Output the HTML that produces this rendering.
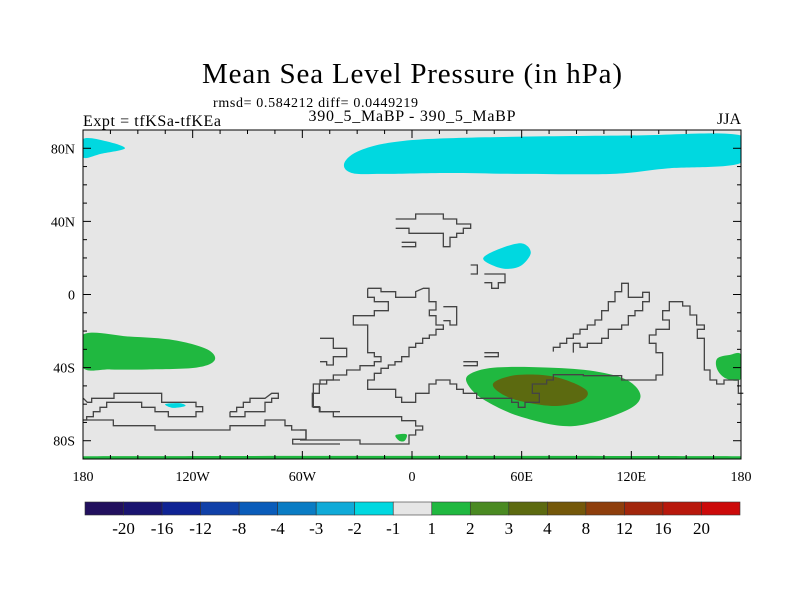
<!DOCTYPE html>
<html><head><meta charset="utf-8"><style>
body{margin:0;background:#fff;width:800px;height:600px;overflow:hidden}
svg{display:block}
text{font-family:"Liberation Serif",serif;fill:#000}
</style></head><body>
<svg id="chart" width="800" height="600">
<text x="412" y="83" font-size="29" text-anchor="middle" textLength="420">Mean Sea Level Pressure (in hPa)</text>
<text x="213" y="107" font-size="14" textLength="205">rmsd= 0.584212 diff= 0.0449219</text>
<text x="83" y="126" font-size="16" textLength="138">Expt = tfKSa-tfKEa</text>
<text x="412" y="121" font-size="16" text-anchor="middle" textLength="207">390_5_MaBP - 390_5_MaBP</text>
<text x="741" y="124" font-size="16" text-anchor="end">JJA</text>
<g id="plot"></g>
<g id="cbar"></g>
</svg>
<script>
const levelLabels=["-20","-16","-12","-8","-4","-3","-2","-1","1","2","3","4","8","12","16","20"];
const levelColors=["#22105e","#1a1470","#0f2394","#1040a8","#0a5cba","#0a7cc4","#10aad8","#00d8e0","#e6e6e6","#20b840","#4a8a22","#5c6a10","#74580a","#8e3e0c","#a2260c","#b8180c","#cc0a0a"];
const latTicks=[80,40,0,-40,-80];
const latLabels=["80N","40N","0","40S","80S"];
const lonTicks=[-180,-120,-60,0,60,120,180];
const lonLabels=["180","120W","60W","0","60E","120E","180"];
// anomaly regions: [lon, lat] outlines with colour index
const blobCyanNE=[[-37,72],[-28,79],[-5,84],[40,86],[120,87],[180,87],[180,72],[140,69],[110,66],[60,66],[20,66.5],[-15,66],[-33,66.5]];
const blobCyanNW=[[-180,85],[-168,84],[-157,80],[-170,77],[-180,75]];
const blobCyanMid=[[39,20],[48,25],[60,28],[65,23],[60,16],[52,14],[44,16]];
const blobGreenW=[[-180,-22],[-155,-23],[-130,-25],[-112,-30],[-108,-36],[-118,-40],[-145,-41],[-165,-41],[-180,-40]];
const blobGreenS=[[31,-44],[45,-40],[75,-40],[100,-42],[118,-47],[125,-56],[116,-64],[88,-72],[60,-67],[40,-58],[31,-50]];
const blobOliveS=[[45,-48],[58,-44],[78,-45],[95,-52],[93,-58],[78,-61],[58,-58],[47,-53]];
const blobGreenE=[[167,-35],[174,-33],[180,-33],[180,-46],[172,-46],[167,-41]];
const blobCyanSW=[[-135,-60],[-127,-59.5],[-124,-61],[-131,-62]];
const blobGreenSm=[[-9,-77],[-3,-76.5],[-4,-80],[-7,-80]];
const blobGreenPole=[[-180,-88.5],[180,-88.5],[180,-90],[-180,-90]];
const regions=[[blobCyanNE,7],[blobCyanNW,7],[blobCyanMid,7],[blobGreenW,9],[blobGreenS,9],[blobOliveS,11],[blobGreenE,9],[blobCyanSW,7],[blobGreenSm,9],[blobGreenPole,9]];

const X0=83,X1=741,Y90=130,Ym90=459;
const xs=lon=>X0+(lon+180)/360*(X1-X0);
const ys=lat=>Y90+(90-lat)/180*(Ym90-Y90);
const NS="http://www.w3.org/2000/svg";
function mk(tag,attrs,parent){const e=document.createElementNS(NS,tag);for(const k in attrs)e.setAttribute(k,attrs[k]);parent.appendChild(e);return e;}
const plot=document.getElementById('plot');
let bg=mk('rect',{x:X0,y:Y90,width:X1-X0,height:Ym90-Y90,fill:'#e6e6e6'},plot);


const clipX=x=>Math.max(X0,Math.min(X1,x));
const smooth=pts=>{const p=pts.map(q=>[xs(q[0]),ys(q[1])]);const n=p.length;let d='M'+p[0][0]+','+p[0][1];
for(let i=0;i<n;i++){const p0=p[(i-1+n)%n],p1=p[i],p2=p[(i+1)%n],p3=p[(i+2)%n];
const c1=[p1[0]+(p2[0]-p0[0])/6,p1[1]+(p2[1]-p0[1])/6],c2=[p2[0]-(p3[0]-p1[0])/6,p2[1]-(p3[1]-p1[1])/6];
d+=' C'+clipX(c1[0])+','+c1[1]+' '+clipX(c2[0])+','+c2[1]+' '+p2[0]+','+p2[1];}return d+'Z';};
const clip=mk('clipPath',{id:'pc'},plot);mk('rect',{x:X0,y:Y90,width:X1-X0,height:Ym90-Y90},clip);
const rg=mk('g',{"clip-path":"url(#pc)"},plot);
regions.forEach((r,i)=>{const e=mk('path',{d:smooth(r[0]),fill:levelColors[r[1]]},rg);

});
const coastZ=[
[[287,57],[347,57],[347,42],[430,42],[430,57],[470,57],[470,72],[512,72],[512,85],[490,85],[490,100],[470,100],[470,112],[450,112],[450,140],[430,140],[430,100],[327,100],[327,85],[287,85]],
[[305,127],[347,127],[347,140],[305,140]],
[[512,195],[532,195],[532,222],[512,222]],
[[553,222],[615,222],[615,248],[595,248],[595,265],[575,265],[575,248],[553,248]],
[[430,320],[470,320],[470,375],[450,375],[450,362],[430,362]],
[[553,458],[595,458],[595,470],[553,470]],
[[490,485],[532,485],[532,497],[490,497]],
[[60,415],[100,415],[100,445],[140,445],[140,470],[100,470],[100,495],[80,495],[80,485],[60,485]],
[[203,265],[243,265],[243,275],[287,275],[287,292],[347,292],[347,275],[370,265],[387,265],[387,305],[408,305],[408,330],[388,330],[388,347],[408,347],[408,375],[430,375],[430,388],[408,388],[408,405],[388,405],[388,415],[368,415],[368,430],[347,430],[347,442],[327,442],[327,470],[305,470],[305,485],[285,485],[285,495],[265,495],[265,505],[243,505],[243,520],[223,520],[223,540],[203,540],[203,568],[287,568],[287,592],[305,592],[305,607],[347,607],[347,580],[387,580],[387,552],[408,552],[408,540],[450,540],[450,552],[470,552],[470,568],[490,568],[490,580],[530,580],[530,595],[635,595],[635,607],[655,607],[655,622],[675,622],[675,607],[718,607],[718,580],[697,580],[697,552],[740,552],[740,540],[760,540],[760,524],[850,524],[850,527],[965,527],[965,540],[1068,540],[1068,525],[1088,525],[1088,458],[1068,458],[1068,430],[1048,430],[1048,405],[1068,405],[1068,388],[1108,388],[1108,360],[1088,360],[1088,332],[1108,332],[1108,305],[1148,305],[1148,318],[1170,318],[1170,345],[1190,345],[1190,375],[1213,375],[1213,388],[1192,388],[1192,415],[1213,415],[1213,510],[1230,510],[1230,540],[1250,540],[1250,552],[1272,552],[1272,540],[1315,540],[1315,580],[1330,580]],
[[203,265],[203,292],[223,292],[223,305],[265,305],[265,332],[223,332],[223,347],[160,347],[160,375],[203,375],[203,458],[223,458],[223,470],[243,470],[243,485],[223,485],[223,497],[180,497],[180,510],[140,510],[140,525],[100,525],[100,540],[60,540],[60,552],[40,552],[40,622],[60,622],[60,635],[100,635],[100,650],[305,650],[305,662],[347,662],[347,678],[368,678],[368,690],[347,690],[347,705],[327,705],[327,732],[180,732],[180,720],[0,720]],
[[0,690],[18,690],[18,720]],
[[760,455],[760,442],[780,442],[780,430],[800,430],[800,415],[820,415],[820,402],[840,402],[840,388],[862,388],[862,375],[885,375],[885,360],[905,360],[905,332],[925,332],[925,305],[945,305],[945,275],[965,275],[965,250],[985,250],[985,292],[1028,292],[1028,277],[1048,277],[1048,305],[1028,305],[1028,332],[1005,332],[1005,347],[985,347],[985,375],[965,375],[965,388],[925,388],[925,415],[905,415],[905,430],[862,430],[862,442],[840,442],[840,430],[820,430],[820,458]]
];
const coastL=[
[[10,85],[22,97],[35,97],[35,85],[102,85],[102,70],[245,70],[245,97],[348,97],[348,110],[368,110],[368,125],[348,125],[348,140],[265,140],[265,125],[225,125],[225,112],[185,112],[185,97],[80,97],[80,112],[60,112],[60,125],[40,125],[40,140],[20,140],[20,150],[10,150]],
[[10,150],[100,150],[100,167],[225,167],[225,180],[450,180],[450,167],[555,167],[555,150],[615,150],[615,167],[635,167],[635,180],[678,180],[678,208],[638,208],[638,222],[780,222]],
[[450,125],[470,125],[470,112],[490,112],[490,97],[510,97],[510,85],[555,85],[575,70],[595,70],[595,85],[575,85],[575,97],[555,97],[555,125],[495,125],[495,140],[450,140],[450,125]],
[[780,30],[740,30],[740,42],[718,42],[718,70],[697,70],[697,110],[718,110],[718,125],[780,125]]
];
const cg=mk('g',{fill:'none',stroke:'#444',"stroke-width":1.3},plot);


coastZ.forEach(l=>mk('polyline',{points:l.map(p=>(300+p[0]/3)+','+(200+p[1]/3)).join(' ')},cg));
coastL.forEach(l=>mk('polyline',{points:l.map(p=>(80+p[0]/3)+','+(370+p[1]/3)).join(' ')},cg));
let fr=mk('rect',{x:X0,y:Y90,width:X1-X0,height:Ym90-Y90,fill:'none',stroke:'#000',"stroke-width":1},plot);


const tg=mk('g',{stroke:'#000',"stroke-width":1},plot);
for(let lon=-180;lon<=180;lon+=15){const x=xs(lon);const L=lon%60==0?8:4;mk('line',{x1:x,y1:Y90,x2:x,y2:Y90+L},tg);mk('line',{x1:x,y1:Ym90,x2:x,y2:Ym90-L},tg);}
for(let lat=-90;lat<=90;lat+=10){const y=ys(lat);const L=lat%40==0?8:4;mk('line',{x1:X0,y1:y,x2:X0+L,y2:y},tg);mk('line',{x1:X1,y1:y,x2:X1-L,y2:y},tg);}
latTicks.forEach((v,i)=>{const t=mk('text',{x:X0-8,y:ys(v)+5,"font-size":14,"text-anchor":"end"},plot);t.textContent=latLabels[i];

});
lonTicks.forEach((v,i)=>{const t=mk('text',{x:xs(v),y:481,"font-size":14,"text-anchor":"middle"},plot);t.textContent=lonLabels[i];

});
const cb=document.getElementById('cbar');


const CX0=85,CX1=740,CY=502,CH=13,w=(CX1-CX0)/levelColors.length;
levelColors.forEach((c,i)=>{const r=mk('rect',{x:CX0+i*w,y:CY,width:w,height:CH,fill:c,stroke:'#333',"stroke-width":0.6},cb);

});
levelLabels.forEach((s,i)=>{const t=mk('text',{x:CX0+(i+1)*w,y:534,"font-size":17,"text-anchor":"middle"},cb);t.textContent=s;

});
</script>
</body></html>
